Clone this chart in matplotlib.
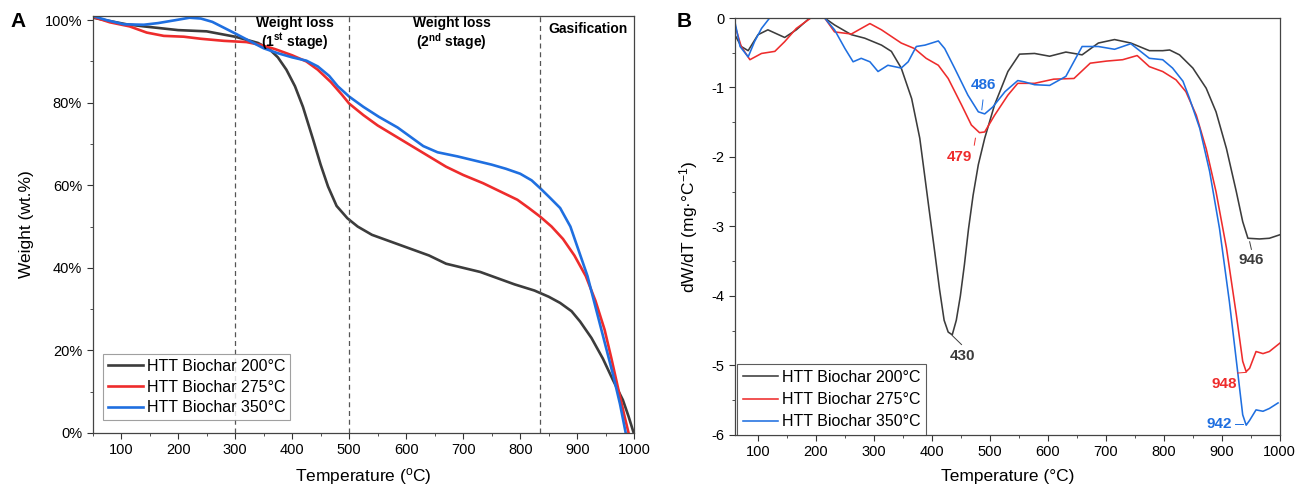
import matplotlib.pyplot as plt
from matplotlib.ticker import MultipleLocator, FuncFormatter

plt.rcParams['font.family'] = ['Liberation Sans', 'DejaVu Sans']

BLACK = "#3c3c3c"
RED = "#ee2c2c"
BLUE = "#1f6fe0"

# ---- panel A: TGA weight (%)
tga_t200 = [51, 80, 110, 140, 200, 250, 300, 340, 360, 375, 390, 405, 419, 437, 450, 463, 478, 497, 515, 540, 560, 600,
            640, 670, 700, 730, 760, 790, 825, 850, 870, 890, 905, 925, 945, 962, 980, 990, 999]
tga_w200 = [100.6, 99.8, 99.0, 98.5, 97.6, 97.3, 96.0, 94.5, 93.0, 91.0, 88.0, 84.0, 79.0, 71.0, 65.0, 59.7, 55.0, 52.0, 50.0, 48.0, 47.0, 45.0,
            43.0, 41.0, 40.0, 39.0, 37.5, 36.0, 34.5, 33.0, 31.5, 29.5, 27.0, 23.0, 18.0, 13.0, 8.0, 4.0, 0.0]

tga_t275 = [51, 80, 115, 145, 175, 210, 240, 280, 320, 345, 370, 400, 425, 445, 468, 487, 500, 525, 550, 580, 610, 640,
            670, 700, 735, 765, 795, 815, 835, 855, 875, 895, 915, 932, 948, 960, 973, 983, 990]
tga_w275 = [100.8, 99.5, 98.5, 97.0, 96.2, 96.0, 95.5, 95.0, 94.7, 94.0, 93.0, 91.5, 90.0, 88.0, 85.0, 82.0, 79.8, 77.0, 74.5, 72.0, 69.5, 67.0,
            64.5, 62.5, 60.5, 58.5, 56.5, 54.5, 52.4, 50.0, 47.0, 43.0, 38.0, 32.0, 25.0, 18.0, 10.0, 4.0, 0.0]

tga_t350 = [51, 75, 105, 140, 165, 195, 220, 240, 260, 280, 300, 325, 350, 375, 400, 425, 445, 465, 480, 500, 525, 552,
            585, 610, 630, 655, 690, 720, 750, 775, 800, 820, 835, 852, 870, 888, 903, 918, 933, 948, 963, 975, 985]
tga_w350 = [101.0, 100.0, 99.0, 98.9, 99.3, 100.0, 100.6, 100.4, 99.6, 98.2, 96.8, 95.0, 93.2, 92.0, 91.0, 90.2, 88.8, 86.5, 84.0, 81.5, 79.0, 76.6,
            74.0, 71.5, 69.5, 68.0, 67.0, 66.0, 65.0, 64.0, 62.8, 61.2, 59.3, 57.0, 54.5, 50.0, 44.0, 38.0, 30.0, 22.0, 14.0, 7.0, 0.0]

stage_bounds = [300, 500, 835]

# ---- panel B: DTG (mg/°C)
dtg_t200 = [60, 71, 83, 100, 117, 146, 166, 189, 203, 215, 232, 261, 284, 313, 330, 347, 365, 379, 385, 395, 405, 413, 421, 428,
            435, 442, 449, 456, 463, 471, 480, 491, 508, 531, 551, 577, 603, 631, 659, 687, 715, 743, 775, 798, 810, 827,
            850, 873, 890, 908, 925, 936, 945, 965, 982, 1000]
dtg_d200 = [-0.24, -0.41, -0.47, -0.24, -0.17, -0.28, -0.17, 0.0, 0.05, 0.0, -0.1, -0.24, -0.29, -0.39, -0.48, -0.72, -1.16, -1.73, -2.11, -2.75, -3.38, -3.9, -4.35, -4.52,
            -4.56, -4.35, -4.0, -3.55, -3.04, -2.55, -2.11, -1.73, -1.25, -0.77, -0.52, -0.51, -0.55, -0.49, -0.53, -0.36, -0.31, -0.36, -0.47, -0.47, -0.46, -0.53,
            -0.72, -1.01, -1.35, -1.88, -2.5, -2.93, -3.17, -3.18, -3.17, -3.12]

dtg_t275 = [60, 71, 86, 106, 129, 146, 166, 186, 200, 215, 232, 261, 278, 293, 313, 347, 370, 390, 411, 428, 451, 468, 482, 491,
            508, 531, 548, 577, 610, 645, 673, 701, 729, 754, 775, 798, 821, 838, 856, 873, 890, 908, 925, 936, 942, 948,
            959, 971, 982, 1000]
dtg_d275 = [-0.1, -0.41, -0.6, -0.51, -0.48, -0.34, -0.15, -0.03, 0.05, 0.0, -0.2, -0.23, -0.15, -0.08, -0.17, -0.36, -0.44, -0.58, -0.68, -0.87, -1.25, -1.54, -1.65, -1.64,
            -1.4, -1.11, -0.94, -0.94, -0.88, -0.87, -0.65, -0.62, -0.6, -0.54, -0.7, -0.77, -0.89, -1.06, -1.4, -1.88, -2.5, -3.31, -4.27, -4.94, -5.09, -5.04,
            -4.8, -4.83, -4.8, -4.68]

dtg_t350 = [60, 69, 83, 94, 106, 120, 165, 215, 232, 250, 264, 278, 293, 307, 324, 347, 359, 373, 388, 411, 422, 439, 462, 480,
            491, 505, 526, 548, 560, 577, 603, 631, 659, 687, 715, 743, 775, 798, 815, 833, 844, 862, 879, 896, 913, 928,
            936, 942, 948, 959, 971, 982, 997]
dtg_d350 = [-0.05, -0.41, -0.56, -0.34, -0.15, 0.0, 0.3, 0.0, -0.17, -0.44, -0.63, -0.58, -0.63, -0.77, -0.68, -0.72, -0.63, -0.41, -0.39, -0.33, -0.44, -0.72, -1.11, -1.35,
            -1.38, -1.28, -1.06, -0.9, -0.92, -0.96, -0.97, -0.84, -0.41, -0.41, -0.45, -0.37, -0.58, -0.6, -0.72, -0.91, -1.15, -1.59, -2.21, -3.03, -4.08, -5.14,
            -5.71, -5.86, -5.79, -5.64, -5.66, -5.62, -5.54]

series_labels = ["HTT Biochar 200°C", "HTT Biochar 275°C", "HTT Biochar 350°C"]
colors = [BLACK, RED, BLUE]

# peak labels: (text, line start x, y, line end x, y, text x, y, color)
peaks = [
    ("486", 486, -1.32, 488, -1.18, 488, -0.97, BLUE),
    ("479", 475, -1.73, 473, -1.83, 448, -2.0, RED),
    ("430", 435, -4.57, 451, -4.7, 453, -4.86, BLACK),
    ("946", 948, -3.22, 951, -3.33, 951, -3.49, BLACK),
    ("948", 942, -5.10, 927, -5.11, 904, -5.27, RED),
    ("942", 936, -5.85, 922, -5.85, 896, -5.85, BLUE),
]

fig = plt.figure(figsize=(12.96, 4.87), dpi=100)
axA = fig.add_axes([0.0714, 0.111, 0.418, 0.856])
axB = fig.add_axes([0.567, 0.107, 0.4205, 0.856])

# ---- A
for t, w, lab, c in zip([tga_t200, tga_t275, tga_t350], [tga_w200, tga_w275, tga_w350], series_labels, colors):
    axA.plot(t, w, color=c, lw=1.9, label=lab)
for b in stage_bounds:
    axA.axvline(b, color="#555555", ls=(0, (4, 3)), lw=0.9)
axA.set_xlim(50, 1000)
axA.set_ylim(0, 101)
axA.xaxis.set_major_locator(MultipleLocator(100))
axA.xaxis.set_minor_locator(MultipleLocator(50))
axA.yaxis.set_major_locator(MultipleLocator(20))
axA.yaxis.set_minor_locator(MultipleLocator(10))
axA.yaxis.set_major_formatter(FuncFormatter(lambda v, p: "%d%%" % v))
axA.set_xlabel("Temperature ($\\mathregular{^{o}}$C)", fontsize=12.5, labelpad=6)
axA.set_ylabel("Weight (wt.%)", fontsize=12.5, labelpad=8)
axA.text(405, 99.4, "Weight loss", ha="center", va="center", fontsize=10, fontweight="bold")
axA.text(405, 94.9, "(1$\\mathregular{^{st}}$ stage)", ha="center", va="center", fontsize=10, fontweight="bold")
axA.text(680, 99.4, "Weight loss", ha="center", va="center", fontsize=10, fontweight="bold")
axA.text(680, 94.9, "(2$\\mathregular{^{nd}}$ stage)", ha="center", va="center", fontsize=10, fontweight="bold")
axA.text(919, 97.9, "Gasification", ha="center", va="center", fontsize=10, fontweight="bold")
legA = axA.legend(loc="lower left", bbox_to_anchor=(0.019, 0.031), fontsize=11.5, frameon=True, fancybox=False,
                  edgecolor="#888888", handlelength=2.2, handletextpad=0.25, borderpad=0.3, labelspacing=0.35,
                  borderaxespad=0)
legA.get_frame().set_linewidth(0.8)

# ---- B
for t, d, lab, c in zip([dtg_t200, dtg_t275, dtg_t350], [dtg_d200, dtg_d275, dtg_d350], series_labels, colors):
    axB.plot(t, d, color=c, lw=1.15, label=lab)
axB.set_xlim(60, 1000)
axB.set_ylim(-6, 0)
axB.xaxis.set_major_locator(MultipleLocator(100))
axB.xaxis.set_minor_locator(MultipleLocator(50))
axB.yaxis.set_major_locator(MultipleLocator(1))
axB.yaxis.set_minor_locator(MultipleLocator(0.5))
axB.yaxis.set_major_formatter(FuncFormatter(lambda v, p: "%d" % v))
axB.set_xlabel("Temperature (°C)", fontsize=12.5, labelpad=7)
axB.set_ylabel("dW/dT (mg·°C$\\mathregular{^{-1}}$)", fontsize=12.5, labelpad=8)
for txt, x0, y0, x1, y1, tx, ty, c in peaks:
    axB.plot([x0, x1], [y0, y1], color=c, lw=0.7)
    axB.text(tx, ty, txt, ha="center", va="center", fontsize=11, fontweight="bold", color=c)
legB = axB.legend(loc="lower left", bbox_to_anchor=(0.004, 0.0), fontsize=11.5, frameon=True, fancybox=False,
                  edgecolor="#333333", handlelength=2.2, handletextpad=0.25, borderpad=0.35, labelspacing=0.45,
                  borderaxespad=0)
legB.get_frame().set_linewidth(0.8)

for ax in (axA, axB):
    ax.tick_params(which="both", direction="out", labelsize=10.5, top=False, right=False, color="#333333")
    ax.tick_params(which="major", length=4)
    ax.tick_params(which="minor", length=2.5)
    for s in ax.spines.values():
        s.set_color("#444444")
        s.set_linewidth(0.9)

fig.text(0.008, 0.945, "A", fontsize=15, fontweight="bold")
fig.text(0.522, 0.945, "B", fontsize=15, fontweight="bold")

fig.savefig("out.png", dpi=100)
